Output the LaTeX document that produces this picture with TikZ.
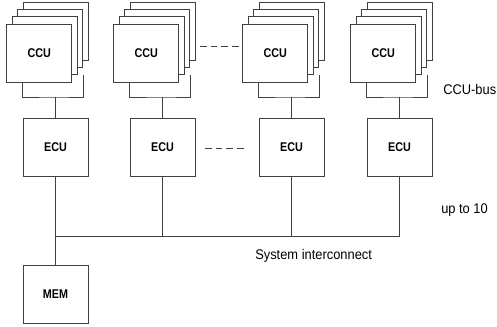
\documentclass[tikz,border=0pt]{standalone}
\usepackage{fontspec}
\setmainfont{Liberation Sans}[FakeStretch=0.92]
\newfontfamily\unitfont{Liberation Sans}[FakeStretch=0.85]
\usetikzlibrary{calc}
\newcommand{\widthunit}{48.75pt}
\newcommand{\heightunit}{43.5pt}
\tikzset{
    wire/.style={draw=black!75, line width=0.6pt},
    unit/.style={wire, fill=white, rectangle, inner sep=0pt,
        minimum width=\widthunit, minimum height=\heightunit,
        font=\unitfont\bfseries\fontsize{9.5}{11}\selectfont},
    gap/.style={wire, dash pattern=on 5pt off 3pt},
    tag/.style={anchor=base west, inner sep=0pt, font=\fontsize{10.5}{12}\selectfont}
}

\begin{document}
\begin{tikzpicture}[x=0.75pt, y=-0.75pt]
    \useasboundingbox (0,0) rectangle (497,326);

    % one cluster per column: CCU stack, bracket, ECU
    \foreach \i/\l in {1/23, 2/130, 3/259, 4/367} {
        \foreach \k in {3,2,1}
            \node[unit] (ccu-\i-\k) at (\l+16.25+5.4*\k, 53-7.3*\k) {};
        \node[unit] (ccu-\i) at (\l+16.25, 53) {CCU};
        \node[unit] (ecu-\i) at (\l+32.5, 147.5) {ECU};

        \coordinate (ccubus-\i) at (\l+32.5, 97);
        \draw[wire] (ccu-\i-3.west |- ccu-\i.south) |- (ccubus-\i)
            -| (ccu-\i-2.east |- ccu-\i-1.south);
        \draw[wire] (ccubus-\i) -- (ecu-\i);

        \coordinate (bus-\i) at (\l+32.5, 236);
        \draw[wire] (ecu-\i) -- (bus-\i);
    }

    % system interconnect and memory
    \draw[wire] (bus-1) -- (bus-4);
    \node[unit] (mem) at (55.5, 294) {MEM};
    \draw[wire] (bus-1) -- (mem);

    % elided columns
    \coordinate (more-ccu-a) at (200, 46);
    \coordinate (more-ccu-b) at (239, 46);
    \draw[gap] (more-ccu-a) -- (more-ccu-b);
    \coordinate (more-ecu-a) at (205, 148);
    \coordinate (more-ecu-b) at (247, 148);
    \draw[gap] (more-ecu-a) -- (more-ecu-b);

    \node[tag] (ccubus-label) at (443, 94) {CCU-bus};
    \node[tag] (count-label) at (441, 213) {up to 10};
    \node[tag] (bus-label) at (255, 259) {System interconnect};
\end{tikzpicture}
\end{document}
